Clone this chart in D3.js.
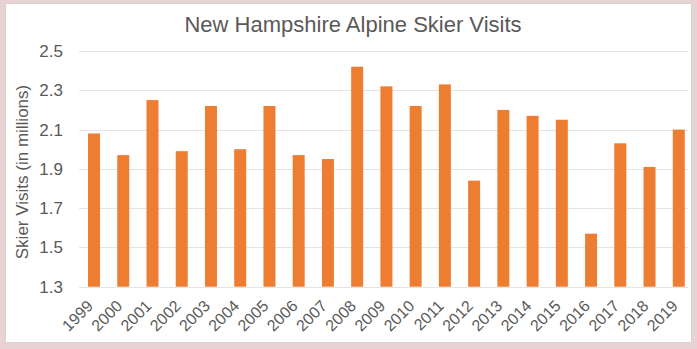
<!DOCTYPE html>
<html>
<head>
<meta charset="utf-8">
<script src="https://cdn.jsdelivr.net/npm/d3@7"></script>
<style>
html,body{margin:0;padding:0;background:#e7d3d3;}
svg{display:block;}
</style>
</head>
<body>
<script>
const years = ["1999","2000","2001","2002","2003","2004","2005","2006","2007","2008","2009","2010","2011","2012","2013","2014","2015","2016","2017","2018","2019"];
const visits = [2.08,1.97,2.25,1.99,2.22,2.00,2.22,1.97,1.95,2.42,2.32,2.22,2.33,1.84,2.20,2.17,2.15,1.57,2.03,1.91,2.10];
const yTicks = [1.3,1.5,1.7,1.9,2.1,2.3,2.5];
const title = "New Hampshire Alpine Skier Visits";
const yTitle = "Skier Visits (in millions)";

const W = 697, H = 349;
const svg = d3.select("body").append("svg").attr("width", W).attr("height", H);

svg.append("rect").attr("x",5.5).attr("y",3.5).attr("width",686).attr("height",339)
  .attr("fill","#fff").attr("stroke","#d9d0d0").attr("stroke-width",1);

const x = d3.scaleBand().domain(years).range([79.4, 693.4]).paddingInner(0.59).paddingOuter(0.295);
const y = d3.scaleLinear().domain([1.3, 2.5]).range([286.7, 51]);

const font = "Liberation Sans, Arial, sans-serif";
const grey = "#595959";

// gridlines
svg.append("g").selectAll("line").data(yTicks).join("line")
  .attr("x1", 79).attr("x2", 688)
  .attr("y1", d => Math.round(y(d)) + 0.5).attr("y2", d => Math.round(y(d)) + 0.5)
  .attr("stroke", "#e4e4e4").attr("stroke-width", 1);

// bars
svg.append("g").selectAll("rect").data(years).join("rect")
  .attr("x", d => x(d)).attr("width", x.bandwidth())
  .attr("y", (d,i) => y(visits[i])).attr("height", (d,i) => y(1.3) - y(visits[i]))
  .attr("fill", "#ed7d31");

// y axis
const yAxis = d3.axisLeft(y).tickValues(yTicks).tickFormat(d3.format(".1f")).tickSize(0).tickPadding(0);
const gy = svg.append("g").attr("transform", "translate(63,0)").call(yAxis);
gy.select(".domain").remove();
gy.selectAll("text").attr("font-family", font).attr("font-size", 17).attr("fill", grey);

// x axis
const xAxis = d3.axisBottom(x).tickSize(0).tickPadding(0);
const gx = svg.append("g").attr("transform", "translate(0,287)").call(xAxis);
gx.select(".domain").remove();
gx.selectAll("text")
  .attr("font-family", font).attr("font-size", 16).attr("fill", grey)
  .attr("text-anchor", "end").attr("dy", null).attr("y", 0)
  .attr("transform", "translate(0,20) rotate(-45)");

// title
svg.append("text").attr("x", 353).attr("y", 31.5).attr("text-anchor", "middle")
  .attr("font-family", font).attr("font-size", 22).attr("fill", grey).text(title);

// y title
svg.append("text").attr("transform", "translate(28,172) rotate(-90)").attr("text-anchor", "middle")
  .attr("font-family", font).attr("font-size", 17).attr("fill", grey).text(yTitle);
</script>
</body>
</html>
